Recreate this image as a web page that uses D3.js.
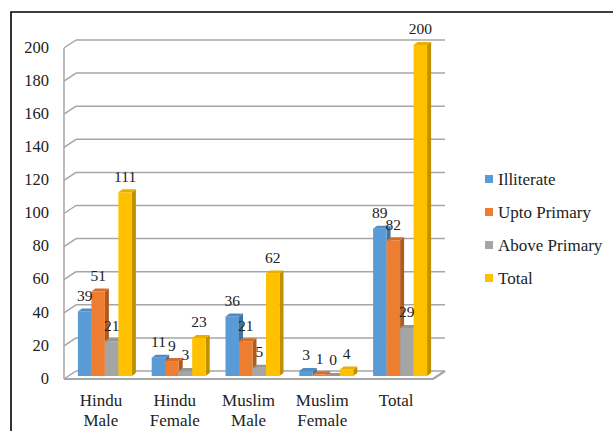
<!DOCTYPE html>
<meta charset="utf-8">
<style>
    body { margin: 0; background: #fff; }
    svg text { font-family: "Liberation Serif", Tinos, "Times New Roman", Times, "DejaVu Serif", serif; fill: #222; }
    .grid line { stroke: #a6a6a6; stroke-width: 1.5px; }
</style>
<body>
<svg width="613" height="431" font-family="Liberation Serif, Times New Roman, DejaVu Serif, serif"></svg>
</body>
<script src="https://d3js.org/d3.v7.min.js"></script>
<script>
    const categories = [["Hindu", "Male"], ["Hindu", "Female"], ["Muslim", "Male"], ["Muslim", "Female"], ["Total"]];
    const seriesNames = ["Illiterate", "Upto Primary", "Above Primary", "Total"];
    const illiterate = [39, 11, 36, 3, 89];
    const uptoPrimary = [51, 9, 21, 1, 82];
    const abovePrimary = [21, 3, 5, 0, 29];
    const total = [111, 23, 62, 4, 200];
    const yTicks = [0, 20, 40, 60, 80, 100, 120, 140, 160, 180, 200];

    const values = [illiterate, uptoPrimary, abovePrimary, total];
    const colors = ["#5b9bd5", "#ed7d31", "#a5a5a5", "#ffc000"];
    const sideColors = ["#3f74a6", "#b25a1e", "#7c7c7c", "#bf9000"];
    const topColors = ["#4f8cc4", "#d96c24", "#959595", "#e8ae00"];

    const svg = d3.select("svg");

    // outer frame (top and left edges visible)
    svg.append("path")
        .attr("d", "M11,431 L11,12 L613,12")
        .attr("fill", "none")
        .attr("stroke", "#000")
        .attr("stroke-width", 1.6);

    const x0 = 64, x1 = 433;
    const back = {dx: 12, dy: -8};
    const mid = {dx: 4, dy: -3};
    const cap = {dx: 4, dy: -3};

    const y = d3.scaleLinear().domain([0, 200]).range([379, 48]);
    const x = d3.scaleBand().domain(d3.range(categories.length)).range([x0, x1]).paddingInner(0).paddingOuter(0);
    const groupW = 54;
    const xs = d3.scaleBand().domain(d3.range(seriesNames.length)).range([0, groupW]);

    // walls and gridlines
    const grid = svg.append("g").attr("class", "grid");
    grid.selectAll(".h").data(yTicks).enter().append("line")
        .attr("x1", x0 + back.dx).attr("x2", x1 + back.dx)
        .attr("y1", d => y(d) + back.dy).attr("y2", d => y(d) + back.dy);
    grid.selectAll(".d").data(yTicks).enter().append("line")
        .attr("x1", x0).attr("x2", x0 + back.dx)
        .attr("y1", d => y(d)).attr("y2", d => y(d) + back.dy);
    grid.append("line")
        .attr("x1", x0).attr("x2", x0)
        .attr("y1", y(200)).attr("y2", y(0));
    // floor
    grid.append("line")
        .attr("x1", x0).attr("x2", x1)
        .attr("y1", y(0)).attr("y2", y(0))
        .style("stroke-width", "2.2px");
    grid.append("line")
        .attr("x1", x1).attr("x2", x1 + back.dx)
        .attr("y1", y(0)).attr("y2", y(0) + back.dy)
        .style("stroke-width", "2.2px");

    // y axis labels
    svg.append("g").selectAll("text").data(yTicks).enter().append("text")
        .attr("x", 49)
        .attr("y", d => y(d) - 1)
        .attr("dy", "0.35em")
        .attr("text-anchor", "end")
        .style("font-size", "16.5px")
        .text(d => d);

    // bars
    const bars = [];
    categories.forEach((c, i) => {
        values.forEach((vals, s) => {
            bars.push({cat: i, s: s, v: vals[i]});
        });
    });

    const pad = (x.bandwidth() - groupW) / 2;
    const barW = xs.bandwidth();
    const yBase = y(0) + mid.dy;

    const g = svg.append("g");
    bars.forEach(b => {
        const bx = x(b.cat) + pad + xs(b.s) + mid.dx;
        const top = y(b.v) + mid.dy;
        g.append("polygon")
            .attr("points", [[bx + barW, top], [bx + barW + cap.dx, top + cap.dy],
                [bx + barW + cap.dx, yBase + cap.dy], [bx + barW, yBase]].join(" "))
            .attr("fill", sideColors[b.s]);
        g.append("rect")
            .attr("x", bx).attr("y", top)
            .attr("width", barW).attr("height", yBase - top)
            .attr("fill", colors[b.s]);
        g.append("polygon")
            .attr("points", [[bx, top], [bx + cap.dx, top + cap.dy],
                [bx + barW + cap.dx, top + cap.dy], [bx + barW, top]].join(" "))
            .attr("fill", topColors[b.s]);
        b.cx = bx + barW / 2;
        b.top = top;
    });

    // data labels
    svg.append("g").selectAll("text").data(bars).enter().append("text")
        .attr("x", d => d.cx)
        .attr("y", d => d.top - 16)
        .attr("dy", "0.35em")
        .attr("text-anchor", "middle")
        .style("font-size", "15.5px")
        .text(d => d.v);

    // category labels
    const cat = svg.append("g").selectAll("text").data(categories).enter().append("text")
        .attr("text-anchor", "middle")
        .style("font-size", "17px");
    cat.each(function (d, i) {
        d3.select(this).selectAll("tspan").data(d).enter().append("tspan")
            .attr("x", x(i) + x.bandwidth() / 2)
            .attr("y", (t, j) => 406 + j * 20)
            .text(t => t);
    });

    // legend
    const legend = svg.append("g").selectAll("g").data(seriesNames).enter().append("g")
        .attr("transform", (d, i) => "translate(485," + (179 + i * 33) + ")");
    legend.append("rect")
        .attr("x", 0).attr("y", -4)
        .attr("width", 8).attr("height", 8)
        .attr("fill", (d, i) => colors[i]);
    legend.append("text")
        .attr("x", 13)
        .attr("y", 0)
        .attr("dy", "0.35em")
        .style("font-size", "17px")
        .text(d => d);
</script>
